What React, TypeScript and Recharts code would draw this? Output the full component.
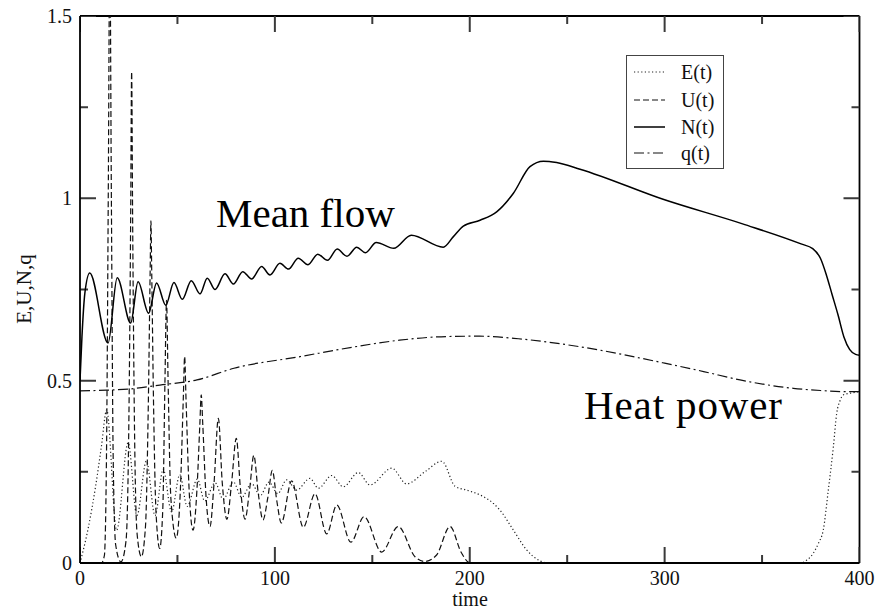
import React from 'react';
import { LineChart, Line, XAxis, YAxis, Legend, ReferenceLine } from 'recharts';

// [time, value] pairs
const eSeries: number[][] = [
  [0, 0], [4, 0.09], [8, 0.21], [11, 0.32], [13.7, 0.42], [18.8, 0.09], [24.7, 0.33], [29.2, 0.13],
  [34.1, 0.28], [38.5, 0.13], [42.7, 0.257], [47, 0.14], [51.2, 0.242], [55, 0.155], [60.2, 0.23],
  [64, 0.17], [69.3, 0.22], [73.5, 0.175], [78.7, 0.222], [83, 0.18], [88, 0.218], [92.5, 0.185],
  [97, 0.222], [101.5, 0.19], [106, 0.228], [111.2, 0.2], [118, 0.232], [122.3, 0.205], [129.2, 0.24],
  [135.1, 0.209], [142.8, 0.248], [148.8, 0.214], [160, 0.26], [167.6, 0.217], [177, 0.25],
  [185.7, 0.279], [192.5, 0.21], [198.4, 0.2], [207, 0.182], [212, 0.164], [215.5, 0.145],
  [222.4, 0.09], [229.2, 0.036], [236, 0.006], [240, 0], [370, 0], [373, 0.008], [376.3, 0.027],
  [379, 0.055], [381.4, 0.09], [384, 0.2], [386.6, 0.319], [388.3, 0.41], [390, 0.445],
  [391.7, 0.461], [396.8, 0.467], [400, 0.47],
];

const uSeries: number[][] = [
  [0, 0], [11, 0], [12.5, 0.02], [13.6, 0.3], [14.5, 1.0], [15.3, 1.7], [16.1, 1.0], [17, 0.3],
  [18.3, 0.05], [21, 0.003], [23.6, 0.06], [25.1, 0.4], [26, 0.95], [26.5, 1.347], [27, 0.95],
  [27.9, 0.4], [29.3, 0.08], [31.5, 0.017], [33.6, 0.1], [35.1, 0.45], [36, 0.8], [36.4, 0.938],
  [36.8, 0.8], [37.7, 0.45], [39, 0.14], [40.9, 0.04], [42.5, 0.15], [43.6, 0.5], [44.4, 0.72],
  [45.2, 0.5], [46.6, 0.18], [49.4, 0.068], [51.5, 0.2], [53, 0.45], [53.7, 0.566], [54.4, 0.45],
  [56, 0.2], [58, 0.09], [60, 0.2], [61.5, 0.38], [62.2, 0.461], [63, 0.38], [64.7, 0.18],
  [66.7, 0.1], [68.8, 0.22], [71, 0.397], [73, 0.22], [75.4, 0.12], [77.8, 0.22], [80.2, 0.342],
  [82.4, 0.2], [84.7, 0.12], [87, 0.2], [89.2, 0.295], [91.5, 0.19], [93.9, 0.118], [96.4, 0.18],
  [98.7, 0.254], [101, 0.17], [103.3, 0.11], [108.6, 0.225], [114.6, 0.098], [120.6, 0.19],
  [126.6, 0.08], [131.8, 0.159], [139, 0.057], [145.8, 0.127], [154.8, 0.03], [163.3, 0.1],
  [171.9, 0.017], [177, 0.004], [183, 0.022], [189.9, 0.1], [195.5, 0.03], [199.3, 0.002], [200, 0],
];

const nSeries: number[][] = [
  [0, 0.5], [1, 0.62], [2.5, 0.74], [5, 0.795], [14.4, 0.603], [19.1, 0.782], [26, 0.658],
  [29.8, 0.771], [35.2, 0.685], [39.3, 0.768], [44, 0.707], [48.2, 0.769], [52.5, 0.723],
  [57.1, 0.774], [61.6, 0.738], [65.3, 0.781], [69.3, 0.75], [74.4, 0.793], [78.7, 0.765],
  [83.5, 0.799], [88.1, 0.779], [93.2, 0.813], [97.5, 0.79], [102.6, 0.822], [107, 0.806],
  [112, 0.836], [117, 0.818], [122, 0.847], [127, 0.83], [132, 0.861], [137, 0.841], [142, 0.866],
  [146.5, 0.851], [152, 0.879], [161, 0.863], [170, 0.899], [186.4, 0.866], [191.6, 0.895],
  [196.7, 0.924], [205.3, 0.94], [213.8, 0.963], [222.4, 1.014], [230.9, 1.087], [237.8, 1.102],
  [244.6, 1.098], [256.6, 1.08], [300, 0.996], [340, 0.93], [370, 0.875], [376, 0.862],
  [380, 0.835], [383, 0.79], [386, 0.735], [389, 0.68], [392, 0.62], [395, 0.585], [398, 0.572],
  [400, 0.57],
];

const qSeries: number[][] = [
  [0, 0.472], [13.7, 0.474], [25, 0.477], [41, 0.488], [60, 0.502], [79, 0.534], [113, 0.566],
  [140, 0.592], [164, 0.611], [188, 0.621], [205, 0.622], [225, 0.615], [256.6, 0.593],
  [300, 0.548], [320, 0.525], [338.7, 0.502], [366, 0.479], [380, 0.473], [393, 0.47], [400, 0.47],
];

const seriesNames = ['E(t)', 'U(t)', 'N(t)', 'q(t)'];
const xTicks = [0, 50, 100, 150, 200, 250, 300, 350, 400];
const yTicks = [0, 0.25, 0.5, 0.75, 1, 1.25, 1.5];
const xTitle = 'time';
const yTitle = 'E,U,N,q';
const annotations = ['Mean flow', 'Heat power'];

const X_MIN = 0;
const X_MAX = 400;
const Y_MIN = 0;
const Y_MAX = 1.5;

const toData = (s: number[][]) => s.map(([t, v]) => ({ t, v }));

const FONT = '"Liberation Serif", "Times New Roman", serif';
const TICK_COLOR = '#3a3a3a';

// tick lengths converted to axis units (plot is ~779.5px wide for 400 units, ~547px tall for 1.5 units)
const X_UNITS_PER_PX = (X_MAX - X_MIN) / 779.5;
const Y_UNITS_PER_PX = (Y_MAX - Y_MIN) / 547;

const styles = [
  { stroke: '#222', width: 1.2, dash: '1.2 2.4' },
  { stroke: '#111', width: 1.2, dash: '6 3' },
  { stroke: '#000', width: 1.5, dash: undefined as string | undefined },
  { stroke: '#111', width: 1.2, dash: '10 3.5 2 3.5' },
];

const isMajorX = (v: number) => v % 100 === 0;
const isMajorY = (v: number) => Math.abs(v * 2 - Math.round(v * 2)) < 1e-6;

// inward tick marks on all four sides, as broken polyline segments (null breaks the path)
const tickMarkData = (() => {
  const pts: { t: number; v: number | null }[] = [];
  xTicks.forEach((x) => {
    const len = (isMajorX(x) ? 16 : 8) * Y_UNITS_PER_PX;
    pts.push({ t: x, v: Y_MIN }, { t: x, v: Y_MIN + len }, { t: x, v: null });
    pts.push({ t: x, v: Y_MAX }, { t: x, v: Y_MAX - len }, { t: x, v: null });
  });
  yTicks.forEach((y) => {
    const len = (isMajorY(y) ? 16 : 8) * X_UNITS_PER_PX;
    pts.push({ t: X_MIN, v: y }, { t: X_MIN + len, v: y }, { t: X_MIN, v: null });
    pts.push({ t: X_MAX - len, v: y }, { t: X_MAX, v: y }, { t: X_MAX, v: null });
  });
  return pts;
})();

const BottomTick = (props: any) => {
  const { x, y, payload } = props;
  if (!isMajorX(payload.value)) return <g />;
  return (
    <text x={x} y={y + 22} textAnchor="middle" fontSize={20} fontFamily={FONT} fill="#111">
      {payload.value}
    </text>
  );
};

const LeftTick = (props: any) => {
  const { x, y, payload } = props;
  if (!isMajorY(payload.value)) return <g />;
  return (
    <text x={x - 8} y={y} dy="0.35em" textAnchor="end" fontSize={20} fontFamily={FONT} fill="#111">
      {String(payload.value)}
    </text>
  );
};

const LegendBox = () => {
  const rowCenters = [16, 44, 71, 97];
  return (
    <div
      style={{
        position: 'relative',
        width: 98,
        height: 114,
        boxSizing: 'border-box',
        border: '1px solid #444',
        background: '#fff',
        fontFamily: FONT,
        fontSize: 20,
        color: '#111',
      }}
    >
      {seriesNames.map((name, i) => (
        <div key={name} style={{ position: 'absolute', left: 0, top: rowCenters[i] - 12, height: 24, width: 96 }}>
          <svg width={40} height={24} style={{ position: 'absolute', left: 0, top: 0 }}>
            <line
              x1={7}
              y1={12}
              x2={38}
              y2={12}
              stroke={styles[i].stroke}
              strokeWidth={styles[i].width}
              strokeDasharray={styles[i].dash}
            />
          </svg>
          <span style={{ position: 'absolute', left: 54, top: 0, lineHeight: '24px', whiteSpace: 'nowrap' }}>
            {name}
          </span>
        </div>
      ))}
    </div>
  );
};

const allSeries = [eSeries, uSeries, nSeries, qSeries];

export default function App() {
  return (
    <div style={{ position: 'absolute', left: 0, top: 0, width: 894, height: 612, background: '#fff' }}>
      <LineChart width={894} height={612} margin={{ top: 16, right: 34.5, bottom: 0, left: 0 }}>
        <XAxis
          xAxisId="b"
          dataKey="t"
          type="number"
          domain={[X_MIN, X_MAX]}
          allowDataOverflow
          ticks={xTicks}
          interval={0}
          height={49}
          tickSize={0}
          tickMargin={0}
          tick={<BottomTick />}
          axisLine={{ stroke: '#000', strokeWidth: 1.8 }}
          tickLine={false}
        />
        <YAxis
          yAxisId="l"
          type="number"
          domain={[Y_MIN, Y_MAX]}
          allowDataOverflow
          ticks={yTicks}
          interval={0}
          width={80}
          tickSize={0}
          tickMargin={0}
          tick={<LeftTick />}
          axisLine={{ stroke: '#000', strokeWidth: 1.8 }}
          tickLine={false}
        />
        <ReferenceLine xAxisId="b" yAxisId="l" y={Y_MAX} stroke="#000" strokeWidth={1.8} ifOverflow="visible" />
        <ReferenceLine xAxisId="b" yAxisId="l" x={X_MAX} stroke="#000" strokeWidth={1.8} ifOverflow="visible" />
        <Line
          xAxisId="b"
          yAxisId="l"
          data={tickMarkData}
          dataKey="v"
          name="ticks"
          legendType="none"
          type="linear"
          stroke={TICK_COLOR}
          strokeWidth={2}
          connectNulls={false}
          dot={false}
          activeDot={false}
          isAnimationActive={false}
        />
        {allSeries.map((s, i) => (
          <Line
            key={seriesNames[i]}
            xAxisId="b"
            yAxisId="l"
            data={toData(s)}
            dataKey="v"
            name={seriesNames[i]}
            type="monotone"
            stroke={styles[i].stroke}
            strokeWidth={styles[i].width}
            strokeDasharray={styles[i].dash}
            dot={false}
            activeDot={false}
            isAnimationActive={false}
          />
        ))}
        <Legend
          layout="vertical"
          align="center"
          verticalAlign="middle"
          wrapperStyle={{ left: 626, top: 55, width: 98, height: 114 }}
          content={() => <LegendBox />}
        />
        <text x={470} y={606} textAnchor="middle" fontSize={20} fontFamily={FONT} fill="#111">
          {xTitle}
        </text>
        <text
          x={24}
          y={289}
          textAnchor="middle"
          dominantBaseline="central"
          fontSize={21}
          fontFamily={FONT}
          fill="#111"
          transform="rotate(-90, 24, 289)"
        >
          {yTitle}
        </text>
        <text x={216} y={227} fontSize={41} fontFamily={FONT} fill="#000">
          {annotations[0]}
        </text>
        <text x={584} y={419} fontSize={41} fontFamily={FONT} fill="#000" textLength={198} lengthAdjust="spacing">
          {annotations[1]}
        </text>
      </LineChart>
    </div>
  );
}
